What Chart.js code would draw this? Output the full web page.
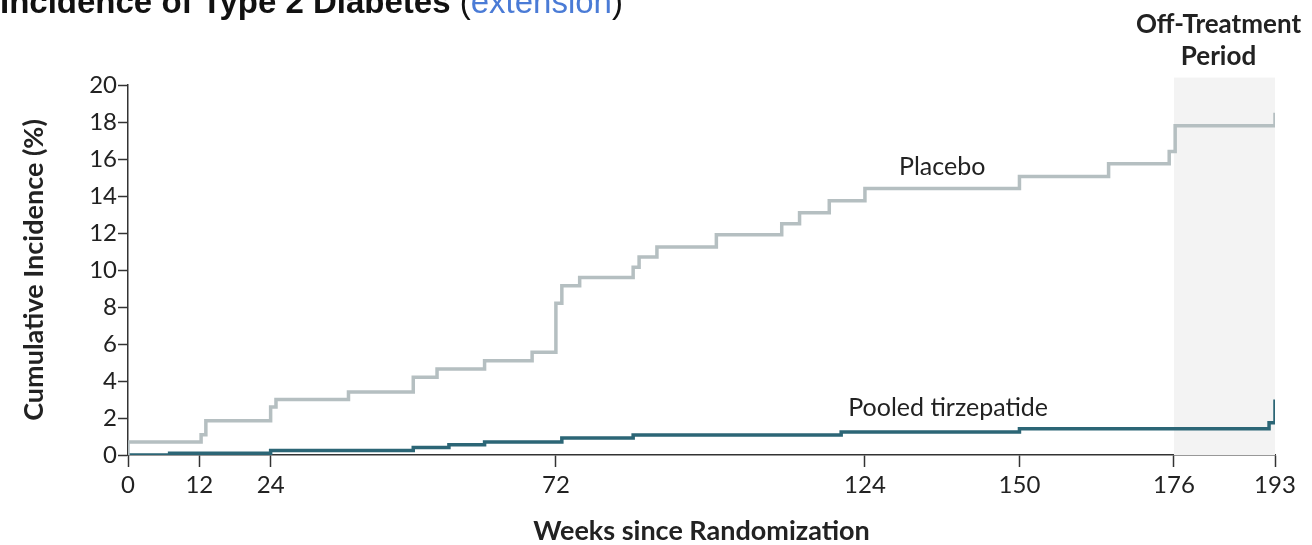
<!DOCTYPE html>
<html>
<head>
<meta charset="utf-8">
<script src="https://cdn.jsdelivr.net/npm/chart.js@4"></script>
<style>
  html, body { margin:0; padding:0; background:#fff; }
  #wrap { position:relative; width:1312px; height:545px; overflow:hidden; }
  #title { position:absolute; left:0; top:-17px; font-family:"Liberation Sans", Arial, sans-serif; font-size:33px; line-height:38px; font-weight:bold; color:#111; white-space:nowrap; }
  #title .ext { color:#4a7bd6; font-weight:normal; }
  #title .par { font-weight:normal; }
  canvas { position:absolute; left:0; top:0; }
</style>
</head>
<body>
<div id="wrap">
  <canvas id="chart" width="1312" height="545"></canvas>
  <div id="title">Incidence of Type 2 Diabetes <span class="par">(</span><span class="ext">extension</span><span class="par">)</span></div>
</div>
<script>
// data (weeks, cumulative incidence %)
const placeboWeeks = [0, 0, 12.3, 13.1, 24, 24.9, 37.1, 48, 52, 60, 68, 72, 73, 76, 85, 86, 89, 99, 110, 113, 118, 124, 150, 165, 175.2, 176.2, 193];
const placeboValues = [0, 0.7, 1.1, 1.85, 2.6, 3.0, 3.4, 4.2, 4.65, 5.1, 5.55, 8.2, 9.15, 9.6, 10.15, 10.7, 11.25, 11.9, 12.5, 13.1, 13.75, 14.4, 15.05, 15.75, 16.4, 17.8, 18.5];
const tirzWeeks = [0, 7, 24, 48, 54, 60, 73, 85, 120, 150, 192, 193];
const tirzValues = [0, 0.1, 0.25, 0.4, 0.55, 0.7, 0.92, 1.08, 1.25, 1.42, 1.75, 3.0];
const xTicks = [0, 12, 24, 72, 124, 150, 176, 193];
const offTreatment = [176, 193];

const FONT = 'Lato, "Noto Sans", sans-serif';
const AXIS = '#333';

const toPts = (xs, ys) => xs.map((x, i) => ({ x: x, y: ys[i] }));

// shaded off-treatment band + curve labels
const extras = {
  id: 'extras',
  beforeDatasetsDraw(chart) {
    const { ctx, scales: { x, y } } = chart;
    const x0 = x.getPixelForValue(offTreatment[0]), x1 = x.getPixelForValue(offTreatment[1]);
    const top = y.getPixelForValue(20.4), bot = y.getPixelForValue(0);
    ctx.save();
    ctx.fillStyle = '#f3f3f3';
    ctx.fillRect(x0, top, x1 - x0, bot - top);
    ctx.restore();
  },
  afterDatasetsDraw(chart) {
    const { ctx, scales: { x, y } } = chart;
    ctx.save();
    ctx.fillStyle = '#222';
    ctx.textAlign = 'center';
    ctx.textBaseline = 'middle';
    ctx.font = '25px ' + FONT;
    ctx.fillText('Placebo', x.getPixelForValue(137), y.getPixelForValue(15.55));
    ctx.fillText('Pooled tirzepatide', x.getPixelForValue(138), y.getPixelForValue(2.55));
    ctx.font = 'bold 26px ' + FONT;
    const cx = x.getPixelForValue((offTreatment[0] + offTreatment[1]) / 2) - 6;
    ctx.fillText('Off-Treatment', cx, 25);
    ctx.fillText('Period', cx, 57);
    ctx.restore();
  }
};

new Chart(document.getElementById('chart'), {
  type: 'line',
  data: {
    datasets: [
      { label: 'Placebo', data: toPts(placeboWeeks, placeboValues), borderColor: '#b5bfc1', borderWidth: 3.5, stepped: 'before', pointRadius: 0, fill: false },
      { label: 'Pooled tirzepatide', data: toPts(tirzWeeks, tirzValues), borderColor: '#2c6676', borderWidth: 3.5, stepped: 'before', pointRadius: 0, fill: false }
    ]
  },
  options: {
    responsive: false,
    animation: false,
    layout: { padding: { top: 85, right: 37, left: 0, bottom: 0 } },
    plugins: { legend: { display: false }, tooltip: { enabled: false } },
    scales: {
      x: {
        type: 'linear', min: 0, max: 193,
        afterBuildTicks: s => { s.ticks = xTicks.map(v => ({ value: v })); },
        afterFit: s => { s.height = 90; },
        grid: { drawOnChartArea: false, drawTicks: true, tickLength: 12, tickColor: AXIS, tickWidth: 1.5 },
        border: { display: true, color: AXIS, width: 1.5 },
        ticks: { color: '#222', font: { family: FONT, size: 24 }, padding: 4, maxRotation: 0, autoSkip: false },
        title: { display: true, text: 'Weeks since Randomization', color: '#222', font: { family: FONT, size: 27, weight: 'bold' }, padding: { top: 12, bottom: -2 } }
      },
      y: {
        min: 0, max: 20,
        afterFit: s => { s.width = 128; },
        grid: { drawOnChartArea: false, drawTicks: true, tickLength: 10, tickColor: AXIS, tickWidth: 1.5 },
        border: { display: true, color: AXIS, width: 1.5 },
        ticks: { stepSize: 2, color: '#222', font: { family: FONT, size: 24 }, padding: 1 },
        title: { display: true, text: 'Cumulative Incidence (%)', color: '#222', font: { family: FONT, size: 27, weight: 'bold' }, padding: { top: 18, bottom: 8 } }
      }
    }
  },
  plugins: [extras]
});
</script>
</body>
</html>
